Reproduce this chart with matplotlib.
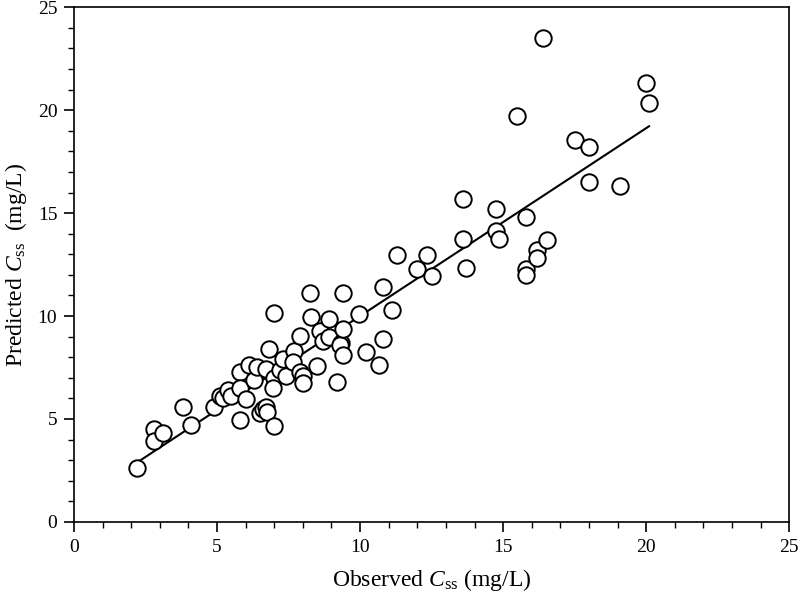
import numpy as np
import matplotlib
matplotlib.use("Agg")
import matplotlib.pyplot as plt
from matplotlib.ticker import MultipleLocator

plt.rcParams['font.family'] = ['Liberation Serif', 'DejaVu Serif']
plt.rcParams['mathtext.fontset'] = 'custom'
plt.rcParams['mathtext.rm'] = 'Liberation Serif'
plt.rcParams['mathtext.it'] = 'Liberation Serif:italic'

# observed vs predicted Css (mg/L)
observed = [2.2, 2.8, 2.8, 3.1, 3.8, 4.1, 4.9, 5.1, 5.2, 5.4, 5.5,
            5.8, 5.8, 5.8, 6.1, 6.0, 6.3, 6.4, 6.5, 6.6, 6.7, 6.75,
            6.8, 6.7, 7.0, 7.0, 6.95, 7.0, 7.2, 7.3, 7.4, 7.7, 7.65,
            7.9, 8.0, 8.0, 7.9, 8.25, 8.3, 8.5, 8.6, 8.7, 8.9, 8.9,
            9.2, 9.35, 9.3, 9.4, 9.4, 9.4, 9.95, 10.2, 10.65, 10.8, 10.8,
            11.1, 11.3, 12.0, 12.35, 12.5, 13.6, 13.6, 13.7, 14.75, 14.75,
            14.85, 15.5, 15.8, 15.8, 15.8, 16.2, 16.2, 16.4, 16.55, 17.5,
            18.0, 18.0, 19.1, 20.0, 20.1]
predicted = [2.6, 4.5, 3.95, 4.3, 5.6, 4.7, 5.6, 6.1, 6.0, 6.4, 6.1,
             7.3, 6.5, 4.95, 7.6, 5.95, 6.9, 7.5, 5.3, 5.5, 5.6, 5.35,
             8.4, 7.45, 10.15, 7.0, 6.5, 4.65, 7.4, 7.9, 7.1, 8.3, 7.75,
             7.3, 7.1, 6.75, 9.05, 11.1, 9.95, 7.55, 9.25, 8.8, 9.85, 9.0,
             6.8, 8.7, 8.6, 9.35, 8.1, 11.1, 10.1, 8.25, 7.6, 11.4, 8.9,
             10.3, 12.95, 12.3, 12.95, 11.95, 15.7, 13.75, 12.35, 15.2, 14.15,
             13.75, 19.7, 14.8, 12.3, 12.0, 13.2, 12.8, 23.5, 13.7, 18.55,
             18.2, 16.5, 16.3, 21.3, 20.35]

obs = np.array(observed)
pred = np.array(predicted)
slope, intercept = np.polyfit(obs, pred, 1)
xfit = np.array([obs.min(), obs.max()])

fig = plt.figure(figsize=(8, 6.04), dpi=100)
ax = fig.add_axes([0.0925, 0.136, 0.894, 0.852])

ax.plot(xfit, intercept + slope * xfit, color='black', lw=1.5, zorder=2)
ax.scatter(obs, pred, s=140, facecolors='white', edgecolors='black',
           linewidths=1.4, zorder=3)

ax.set_xlim(0, 25)
ax.set_ylim(0, 25)
ax.xaxis.set_major_locator(MultipleLocator(5))
ax.yaxis.set_major_locator(MultipleLocator(5))
ax.xaxis.set_minor_locator(MultipleLocator(1))
ax.yaxis.set_minor_locator(MultipleLocator(1))
ax.tick_params(which='major', direction='out', length=7, width=1.2,
               labelsize=14, top=False, right=False, pad=5)
ax.tick_params(which='minor', direction='out', length=4.5, width=1.0,
               top=False, right=False)
for sp in ax.spines.values():
    sp.set_linewidth(1.2)

ax.set_xlabel('Observed $C_{\\mathrm{ss}}$ (mg/L)', fontsize=17, labelpad=8)
ax.set_ylabel('Predicted $C_{\\mathrm{ss}}$  (mg/L)', fontsize=17, labelpad=6)

fig.savefig('out.png', dpi=100)
